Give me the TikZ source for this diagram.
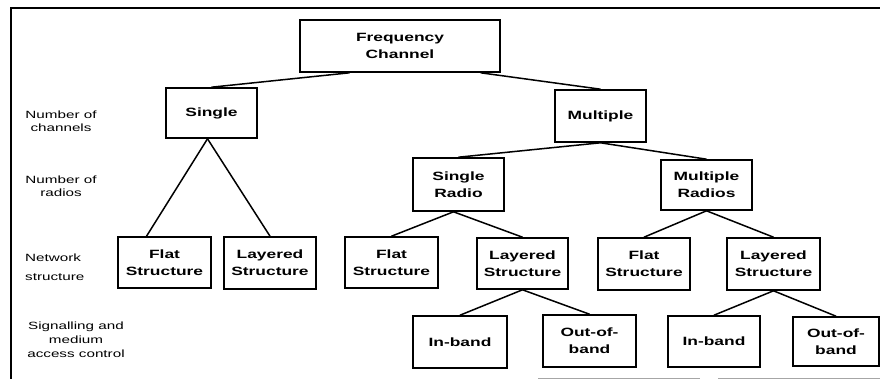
\documentclass[tikz,border=0pt]{standalone}
\usepackage{fontspec}
\usetikzlibrary{calc}
\newfontfamily\boxfont[FakeStretch=1.45]{Liberation Sans Bold}
\newfontfamily\labfont[FakeStretch=1.45]{Liberation Sans}
\begin{document}
\begin{tikzpicture}[x=1pt,y=-1pt,
  box/.style={draw,line width=1.6pt,inner sep=0pt,align=center,
    font=\boxfont\fontsize{12}{17}\selectfont},
  levellabel/.style={inner sep=0pt,font=\labfont\fontsize{10.5}{12.5}\selectfont},
  link/.style={line width=1.5pt},
  frame/.style={line width=1.8pt},
  edge/.style={line width=1pt,draw=black!35}]
\useasboundingbox (0,0) rectangle (880,379);

% outer frame
\coordinate (tl) at (11,8);
\coordinate (tr) at (880,8);
\coordinate (bl) at (11,379);
\draw[frame] (bl) -- (tl) -- (tr);
\coordinate (e1) at (538,378);
\coordinate (e2) at (700,378);
\coordinate (e3) at (718,378);
\coordinate (e4) at (880,378);
\draw[edge] (e1) -- (e2) (e3) -- (e4);

% level labels
\node[levellabel,align=center] (lchan) at (61,121) {Number of\\channels};
\node[levellabel,align=center] (lrad) at (61,186) {Number of\\radios};
\node[levellabel,align=left,anchor=west,
  font=\labfont\fontsize{10.5}{19.5}\selectfont] (lnet) at (25,267) {Network\\structure};
\node[levellabel,align=center,
  font=\labfont\fontsize{10.5}{14}\selectfont] (lsig) at (76,340) {Signalling and\\medium\\access control};

% tree nodes
\node[box,minimum width=200,minimum height=52] (fc) at (400,46) {Frequency\\Channel};
\node[box,minimum width=91,minimum height=50] (single) at (211.5,113) {Single};
\node[box,minimum width=91,minimum height=52] (multiple) at (600.5,116) {Multiple};
\node[box,minimum width=91,minimum height=53] (sradio) at (458.5,184.5) {Single\\Radio};
\node[box,minimum width=91,minimum height=50] (mradio) at (706.5,185) {Multiple\\Radios};
\node[box,minimum width=93,minimum height=51] (flat1) at (164.5,262.5) {Flat\\Structure};
\node[box,minimum width=92,minimum height=52] (lay1) at (270,263) {Layered\\Structure};
\node[box,minimum width=93,minimum height=51] (flat2) at (391.5,262.5) {Flat\\Structure};
\node[box,minimum width=91,minimum height=51] (lay2) at (522.5,263.5) {Layered\\Structure};
\node[box,minimum width=92,minimum height=52] (flat3) at (644,264) {Flat\\Structure};
\node[box,minimum width=93,minimum height=52] (lay3) at (773.5,264) {Layered\\Structure};
\node[box,minimum width=94,minimum height=52] (inb1) at (460,342) {In-band};
\node[box,minimum width=93,minimum height=52] (oob1) at (589.5,341) {Out-of-\\band};
\node[box,minimum width=92,minimum height=51] (inb2) at (714,341.5) {In-band};
\node[box,minimum width=86,minimum height=49] (oob2) at (836,341.5) {Out-of-\\band};

% connectors
\draw[link] ($(fc.south west)!0.25!(fc.south east)$) -- (single.north);
\draw[link] ($(fc.south west)!0.9!(fc.south east)$) -- (multiple.north);
\draw[link] ($(single.south)+(-4,0)$) -- ($(flat1.north west)!0.31!(flat1.north east)$);
\draw[link] ($(single.south)+(-4,0)$) -- (lay1.north);
\draw[link] (multiple.south) -- (sradio.north);
\draw[link] (multiple.south) -- (mradio.north);
\draw[link] ($(sradio.south)+(-5,0)$) -- (flat2.north);
\draw[link] ($(sradio.south)+(-5,0)$) -- (lay2.north);
\draw[link] (mradio.south) -- (flat3.north);
\draw[link] (mradio.south) -- (lay3.north);
\draw[link] (lay2.south) -- (inb1.north);
\draw[link] (lay2.south) -- (oob1.north);
\draw[link] (lay3.south) -- (inb2.north);
\draw[link] (lay3.south) -- (oob2.north);
\end{tikzpicture}
\end{document}
